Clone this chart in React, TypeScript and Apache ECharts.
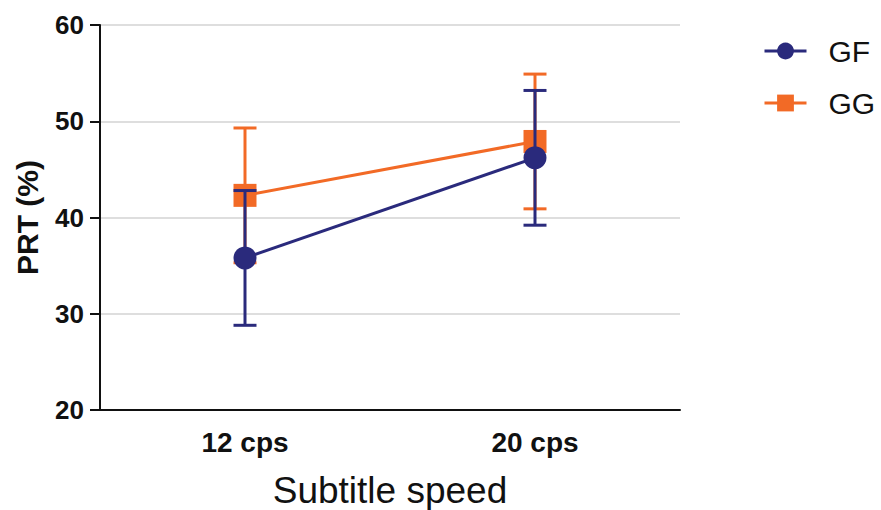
import React, { useEffect, useRef } from "react";
import * as echarts from "echarts";

const categories = ["12 cps", "20 cps"];
const gfMean = [35.8, 46.2];
const gfErr = [7.0, 7.0];
const ggMean = [42.3, 47.9];
const ggErr = [7.0, 7.0];
const yTicks = { min: 20, max: 60, interval: 10 };

const NAVY = "#2a2a7c";
const ORANGE = "#f26a26";
const FONT = "'Liberation Sans', Arial, Helvetica, sans-serif";

function errData(mean: number[], err: number[]) {
  return mean.map((m, i) => [i, m - err[i], m + err[i]]);
}

function errorSeries(name: string, color: string, data: number[][], z: number) {
  return {
    type: "custom",
    name: name + "-err",
    z,
    silent: true,
    data,
    renderItem: (params: any, api: any) => {
      const x = api.value(0);
      const lo = api.coord([x, api.value(1)]);
      const hi = api.coord([x, api.value(2)]);
      const half = 11.5;
      const style = { stroke: color, lineWidth: 3 };
      return {
        type: "group",
        children: [
          { type: "line", shape: { x1: lo[0], y1: lo[1], x2: hi[0], y2: hi[1] }, style },
          { type: "line", shape: { x1: lo[0] - half, y1: lo[1], x2: lo[0] + half, y2: lo[1] }, style },
          { type: "line", shape: { x1: hi[0] - half, y1: hi[1], x2: hi[0] + half, y2: hi[1] }, style },
        ],
      };
    },
  };
}

export default function App() {
  const ref = useRef<HTMLDivElement>(null);
  useEffect(() => {
    document.body.style.margin = "0";
    const chart = echarts.init(ref.current!, null, { renderer: "svg" });
    chart.setOption({
      animation: false,
      textStyle: { fontFamily: FONT },
      grid: { left: 100, right: 201, top: 25, bottom: 100, outerBoundsMode: "none", containLabel: false },
      legend: {
        orient: "vertical",
        left: 758,
        top: 31,
        itemWidth: 42,
        itemHeight: 21,
        itemGap: 22,
        data: ["GF", "GG"],
        lineStyle: { width: 3 },
        textStyle: { fontSize: 30, color: "#111", fontFamily: FONT, padding: [0, 0, 0, 17] },
      },
      xAxis: {
        type: "category",
        data: categories,
        boundaryGap: true,
        name: "Subtitle speed",
        nameLocation: "middle",
        nameGap: 62,
        nameTextStyle: { fontSize: 37, color: "#111", fontFamily: FONT },
        axisLine: { lineStyle: { color: "#111", width: 2 } },
        axisTick: { alignWithLabel: true, length: 10, lineStyle: { color: "#111", width: 2 } },
        axisLabel: { fontSize: 28, fontWeight: "bold", color: "#111", margin: 18 },
      },
      yAxis: {
        type: "value",
        min: yTicks.min,
        max: yTicks.max,
        interval: yTicks.interval,
        name: "PRT (%)",
        nameLocation: "middle",
        nameGap: 58,
        nameRotate: 90,
        nameTextStyle: { fontSize: 30, fontWeight: "bold", color: "#111", fontFamily: FONT },
        axisLine: { show: true, lineStyle: { color: "#111", width: 2 } },
        axisTick: { show: true, length: 10, lineStyle: { color: "#111", width: 2 } },
        axisLabel: { fontSize: 26, fontWeight: "bold", color: "#111", margin: 16 },
        splitLine: { show: true, lineStyle: { color: "#d3d3d3", width: 1.5 } },
      },
      series: [
        {
          type: "line",
          name: "GG",
          z: 2,
          data: ggMean,
          symbol: "rect",
          symbolSize: 23,
          color: ORANGE,
          itemStyle: { color: ORANGE },
          lineStyle: { color: ORANGE, width: 3 },
        },
        errorSeries("GG", ORANGE, errData(ggMean, ggErr), 3),
        {
          type: "line",
          name: "GF",
          z: 4,
          data: gfMean,
          symbol: "circle",
          symbolSize: 23,
          color: NAVY,
          itemStyle: { color: NAVY },
          lineStyle: { color: NAVY, width: 3 },
        },
        errorSeries("GF", NAVY, errData(gfMean, gfErr), 5),
      ],
    });
    return () => chart.dispose();
  }, []);
  return <div ref={ref} style={{ width: 881, height: 510 }} />;
}
